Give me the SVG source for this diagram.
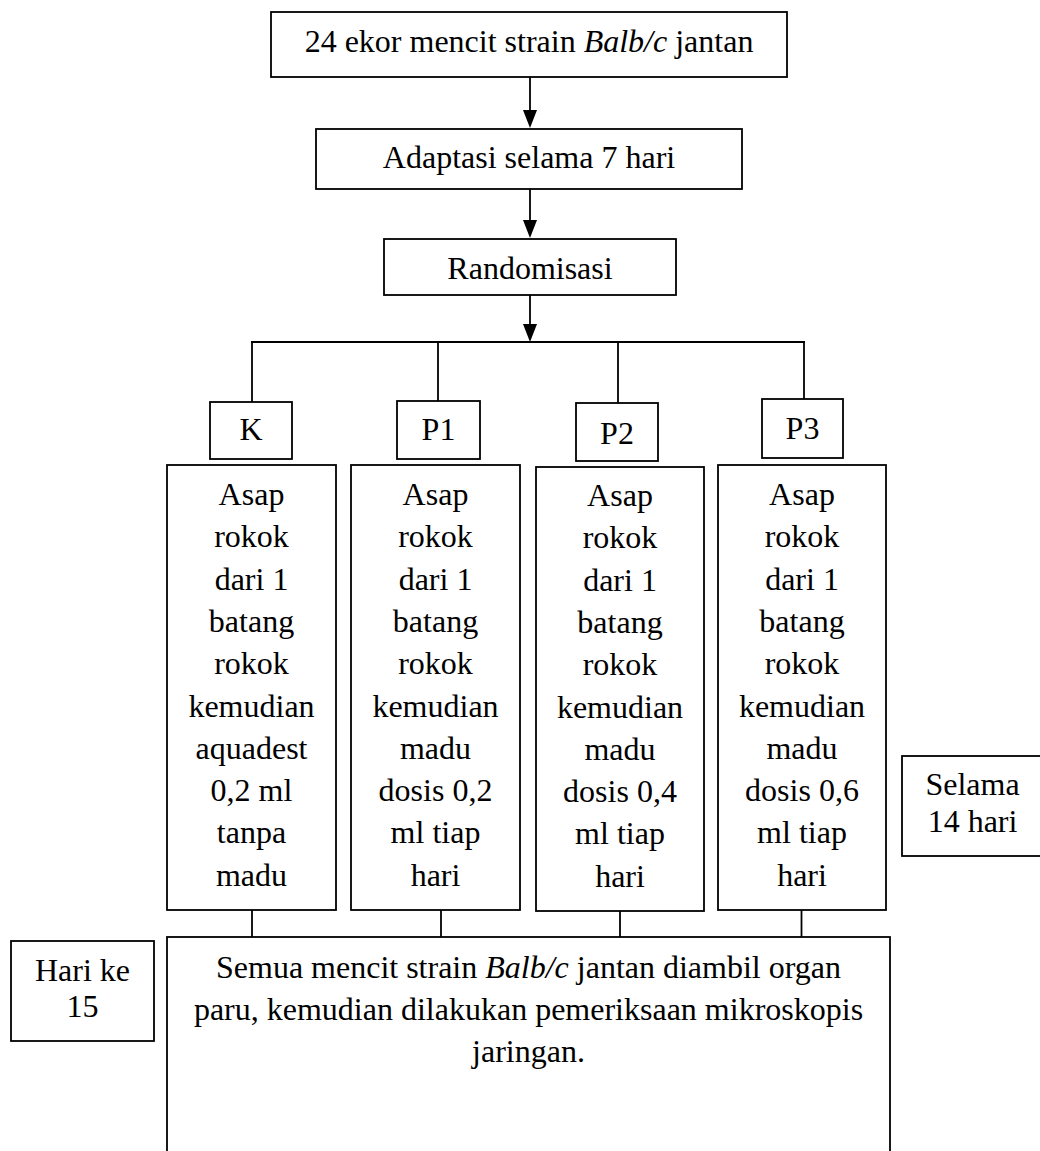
<svg xmlns="http://www.w3.org/2000/svg" width="1040" height="1151" viewBox="0 0 1040 1151">
<style>
.box{fill:#fff;stroke:#000;stroke-width:1.8}
.ln{fill:none;stroke:#000;stroke-width:1.8}
.arw{fill:none;stroke:#000;stroke-width:1.8;marker-end:url(#arr)}
text{font-family:"Liberation Serif","Times New Roman",serif;font-size:32px;fill:#000;text-anchor:middle}
.it{font-style:italic}
</style>
<defs>
<marker id="arr" markerUnits="userSpaceOnUse" markerWidth="18" markerHeight="14" refX="14" refY="7" orient="auto" viewBox="0 0 18 14">
<path d="M0,0 L18,7 L0,14 Z" fill="#000"/>
</marker>
</defs>
<rect width="1040" height="1151" fill="#fff"/>
<g id="connectors">
<line class="arw" x1="530" y1="77" x2="530" y2="124"/>
<line class="arw" x1="530" y1="189" x2="530" y2="234"/>
<line class="arw" x1="530" y1="295" x2="530" y2="338"/>
<line class="ln" x1="251" y1="342" x2="805" y2="342"/>
<line class="ln" x1="252" y1="342" x2="252" y2="402"/>
<line class="ln" x1="438" y1="342" x2="438" y2="401"/>
<line class="ln" x1="618" y1="342" x2="618" y2="403"/>
<line class="ln" x1="804" y1="342" x2="804" y2="399"/>
<line class="ln" x1="252" y1="910" x2="252" y2="937"/>
<line class="ln" x1="441" y1="910" x2="441" y2="937"/>
<line class="ln" x1="620" y1="911" x2="620" y2="937"/>
<line class="ln" x1="801.5" y1="910" x2="801.5" y2="937"/>
</g>
<g id="n-start">
<rect class="box" x="271" y="12" width="516" height="65"/>
<text x="529" y="52">24 ekor mencit strain <tspan class="it">Balb/c</tspan> jantan</text>
</g>
<g id="n-adaptasi">
<rect class="box" x="316" y="129" width="426" height="60"/>
<text x="529" y="168">Adaptasi selama 7 hari</text>
</g>
<g id="n-random">
<rect class="box" x="384" y="239" width="292" height="56"/>
<text x="530" y="279">Randomisasi</text>
</g>
<g id="n-K">
<rect class="box" x="210" y="402" width="82" height="57" stroke-width="1.4"/>
<text x="251" y="440">K</text>
</g>
<g id="n-P1">
<rect class="box" x="397" y="401" width="83" height="58" stroke-width="2.2"/>
<text x="438.5" y="440">P1</text>
</g>
<g id="n-P2">
<rect class="box" x="576" y="403" width="82" height="58"/>
<text x="617" y="444">P2</text>
</g>
<g id="n-P3">
<rect class="box" x="762" y="399" width="81" height="59"/>
<text x="802.5" y="439">P3</text>
</g>
<g id="n-K-treat">
<rect class="box" x="167" y="465" width="169" height="445"/>
<text x="251.5" y="505">Asap</text>
<text x="251.5" y="547.3">rokok</text>
<text x="251.5" y="589.6">dari 1</text>
<text x="251.5" y="631.9">batang</text>
<text x="251.5" y="674.2">rokok</text>
<text x="251.5" y="716.5">kemudian</text>
<text x="251.5" y="758.8">aquadest</text>
<text x="251.5" y="801.1">0,2 ml</text>
<text x="251.5" y="843.4">tanpa</text>
<text x="251.5" y="885.7">madu</text>
</g>
<g id="n-P1-treat">
<rect class="box" x="351" y="465" width="169" height="445"/>
<text x="435.5" y="505">Asap</text>
<text x="435.5" y="547.3">rokok</text>
<text x="435.5" y="589.6">dari 1</text>
<text x="435.5" y="631.9">batang</text>
<text x="435.5" y="674.2">rokok</text>
<text x="435.5" y="716.5">kemudian</text>
<text x="435.5" y="758.8">madu</text>
<text x="435.5" y="801.1">dosis 0,2</text>
<text x="435.5" y="843.4">ml tiap</text>
<text x="435.5" y="885.7">hari</text>
</g>
<g id="n-P2-treat">
<rect class="box" x="536" y="467" width="168" height="444"/>
<text x="620" y="506">Asap</text>
<text x="620" y="548.3">rokok</text>
<text x="620" y="590.6">dari 1</text>
<text x="620" y="632.9">batang</text>
<text x="620" y="675.2">rokok</text>
<text x="620" y="717.5">kemudian</text>
<text x="620" y="759.8">madu</text>
<text x="620" y="802.1">dosis 0,4</text>
<text x="620" y="844.4">ml tiap</text>
<text x="620" y="886.7">hari</text>
</g>
<g id="n-P3-treat">
<rect class="box" x="718" y="465" width="168" height="445"/>
<text x="802" y="505">Asap</text>
<text x="802" y="547.3">rokok</text>
<text x="802" y="589.6">dari 1</text>
<text x="802" y="631.9">batang</text>
<text x="802" y="674.2">rokok</text>
<text x="802" y="716.5">kemudian</text>
<text x="802" y="758.8">madu</text>
<text x="802" y="801.1">dosis 0,6</text>
<text x="802" y="843.4">ml tiap</text>
<text x="802" y="885.7">hari</text>
</g>
<g id="n-selama">
<rect class="box" x="902" y="756" width="144" height="100"/>
<text x="972.5" y="795">Selama</text>
<text x="972.5" y="832">14 hari</text>
</g>
<g id="n-hari15">
<rect class="box" x="11" y="941" width="143" height="100"/>
<text x="82.5" y="981">Hari ke</text>
<text x="82.5" y="1017">15</text>
</g>
<g id="n-final">
<rect class="box" x="167" y="937" width="723" height="230"/>
<text x="528.5" y="978">Semua mencit strain <tspan class="it">Balb/c</tspan> jantan diambil organ</text>
<text x="528.5" y="1020">paru, kemudian dilakukan pemeriksaan mikroskopis</text>
<text x="528.5" y="1062">jaringan.</text>
</g>
</svg>
